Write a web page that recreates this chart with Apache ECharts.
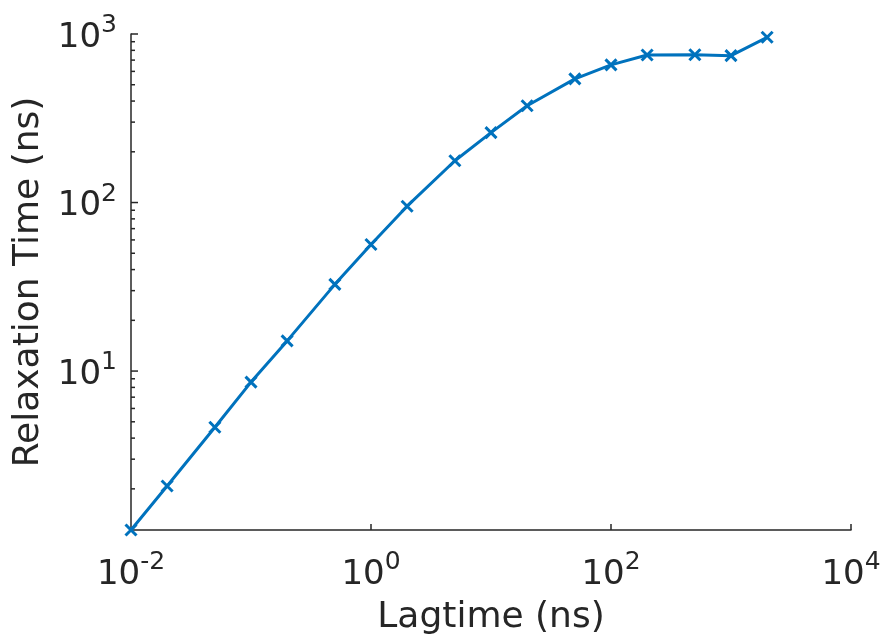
<!DOCTYPE html>
<html>
<head>
<meta charset="utf-8">
<script src="https://cdn.jsdelivr.net/npm/echarts@6/dist/echarts.min.js"></script>
<style>html,body{margin:0;padding:0;background:#fff}#c{width:886px;height:641px}</style>
</head>
<body>
<div id="c"></div>
<script>
const lagtime = [0.01, 0.02, 0.05, 0.1, 0.2, 0.5, 1, 2, 5, 10, 20, 50, 100, 200, 500, 1000, 2000];
const relaxation = [1.14, 2.08, 4.64, 8.6, 15.1, 32.7, 56.4, 95.1, 177, 260, 375, 542, 656, 751, 753, 744, 956];
const xTickLabels = [0.01, 1, 100, 10000];
const xMajorTicks = [1, 100, 10000];
const yMajorTicks = [10, 100, 1000];
const yMinorTicks = [2, 3, 4, 5, 6, 7, 8, 9, 20, 30, 40, 50, 60, 70, 80, 90, 200, 300, 400, 500, 600, 700, 800, 900];
const xRange = [0.01, 10000];
const yRange = [1.14, 1000];

const axisColor = '#262626';
const font = 'DejaVu Sans';

function isIn(list, v) {
  return list.some(t => Math.abs(Math.log10(t) - Math.log10(v)) < 1e-6);
}
function supText(v) {
  return '{b|10}{s|' + Math.round(Math.log10(v)) + '}';
}
const richTick = {
  b: { fontSize: 34, fontFamily: font, color: axisColor, lineHeight: 42, verticalAlign: 'bottom' },
  s: { fontSize: 25, fontFamily: font, color: axisColor, lineHeight: 25, verticalAlign: 'top' }
};

// [axis (0 = x, 1 = y), value, length]
const tickData = xMajorTicks.map(v => [0, v, 6])
  .concat(yMajorTicks.map(v => [1, v, 7]))
  .concat(yMinorTicks.map(v => [1, v, 4]));

const chart = echarts.init(document.getElementById('c'));
chart.setOption({
  animation: false,
  grid: { left: 131, right: 35, top: 34, bottom: 110, containLabel: false },
  xAxis: {
    type: 'log', logBase: 10, min: xRange[0], max: xRange[1],
    name: 'Lagtime (ns)', nameLocation: 'middle', nameGap: 70,
    nameTextStyle: { fontSize: 36, fontFamily: font, color: axisColor },
    axisLine: { lineStyle: { color: axisColor, width: 1.5 } },
    axisTick: { show: false },
    axisLabel: {
      margin: 20,
      formatter: v => isIn(xTickLabels, v) ? supText(v) : '',
      rich: richTick
    },
    splitLine: { show: false }, minorTick: { show: false }
  },
  yAxis: {
    type: 'log', logBase: 10, min: yRange[0], max: yRange[1],
    name: 'Relaxation Time (ns)', nameLocation: 'middle', nameGap: 82, nameRotate: 90,
    nameTextStyle: { fontSize: 36, fontFamily: font, color: axisColor },
    axisLine: { lineStyle: { color: axisColor, width: 1.5 } },
    axisTick: { show: false },
    axisLabel: {
      margin: 14,
      formatter: v => isIn(yMajorTicks, v) ? supText(v) : '',
      rich: richTick
    },
    splitLine: { show: false }
  },
  series: [
    {
      type: 'custom',
      silent: true,
      data: tickData,
      clip: false,
      renderItem: function (params, api) {
        const axis = api.value(0);
        const v = api.value(1);
        const len = api.value(2);
        if (axis === 0) {
          const p = api.coord([v, yRange[0]]);
          return {
            type: 'line',
            shape: { x1: p[0], y1: p[1], x2: p[0], y2: p[1] - len },
            style: { stroke: axisColor, lineWidth: 1.5 }
          };
        }
        const p = api.coord([xRange[0], v]);
        return {
          type: 'line',
          shape: { x1: p[0], y1: p[1], x2: p[0] + len, y2: p[1] },
          style: { stroke: axisColor, lineWidth: 1.5 }
        };
      },
      encode: { x: 1 },
      z: 1
    },
    {
      type: 'line',
      data: lagtime.map((x, i) => [x, relaxation[i]]),
      lineStyle: { color: '#0072BD', width: 3 },
      itemStyle: { color: '#0072BD', borderColor: '#0072BD', borderWidth: 3 },
      symbol: 'path://M0,0L10,10M10,0L0,10',
      symbolSize: 11,
      showAllSymbol: true,
      clip: false,
      z: 3
    }
  ]
});
</script>
</body>
</html>
